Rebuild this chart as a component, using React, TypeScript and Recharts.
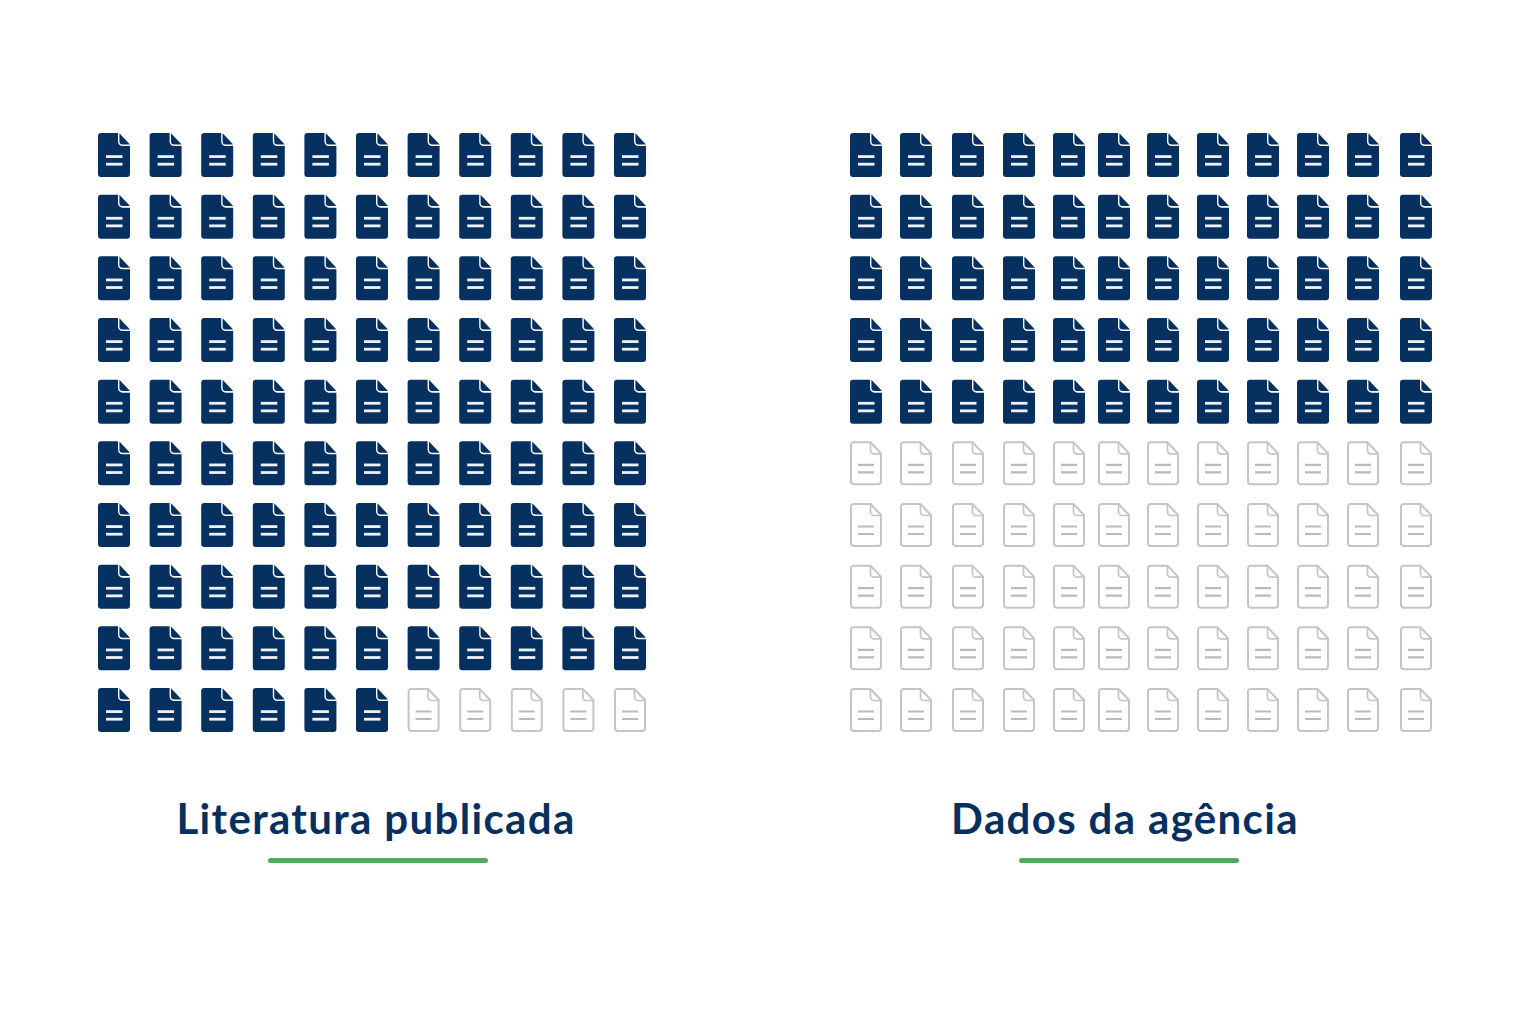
import React from "react"
import { Scatter, ScatterChart, XAxis, YAxis } from "recharts"

const leftTitle = "Literatura publicada"
const rightTitle = "Dados da agência"

// column values of each grid, the right one is slightly uneven in the picture
const leftColumns = [1, 2, 3, 4, 5, 6, 7, 8, 9, 10, 11]
const rightColumns = [1, 2, 3.04, 4.06, 5.06, 5.96, 6.94, 7.94, 8.94, 9.94, 10.94, 12]
const rows = [1, 2, 3, 4, 5, 6, 7, 8, 9, 10]

// how many documents are dark in each row
const leftFilled = [11, 11, 11, 11, 11, 11, 11, 11, 11, 6]
const rightFilled = [12, 12, 12, 12, 12, 0, 0, 0, 0, 0]

const NAVY = "#06305f"
const GREY = "#c2c5ca"
const GREY_LINE = "#b7bbc0"
const GREEN = "#57a85c"

const buildPoints = (columns: number[], filled: number[]) =>
  rows.flatMap((row, r) =>
    columns.map((column, c) => ({ column, row, filled: c < filled[r] }))
  )

const DocIcon = (props: any) => {
  const { cx, cy, payload } = props
  const x = cx - 16
  const y = cy - 22
  if (payload.filled) {
    return (
      <g transform={`translate(${x},${y})`}>
        <path
          d="M3 0H20V8.5a4.5 4.5 0 0 0 4.5 4.5H32V41a3 3 0 0 1-3 3H3a3 3 0 0 1-3-3V3a3 3 0 0 1 3-3z"
          fill={NAVY}
        />
        <path d="M21.4 0.2L32 11.4H24.6a3.2 3.2 0 0 1-3.2-3.2z" fill={NAVY} />
        <rect x={8} y={22.2} width={16.5} height={2.8} fill="#eef1f4" />
        <rect x={8} y={29.8} width={16.5} height={2.8} fill="#eef1f4" />
      </g>
    )
  }
  return (
    <g transform={`translate(${x},${y})`} fill="none" stroke={GREY} strokeWidth={2}>
      <path d="M3.5 1H20.5L31 12V40a3 3 0 0 1-3 3H4a3 3 0 0 1-3-3V3.5a2.5 2.5 0 0 1 2.5-2.5z" />
      <path d="M20.5 1V9a3.5 3.5 0 0 0 3.5 3.5H31" strokeWidth={1.7} />
      <path d="M8 23.5H24M8 31H24" stroke={GREY_LINE} strokeWidth={2.2} />
    </g>
  )
}

const Grid = ({ left, width, columns, filled, margin }: any) => (
  <div style={{ position: "absolute", left, top: 0 }}>
    <ScatterChart width={width} height={1024} margin={margin}>
      <XAxis type="number" dataKey="column" domain={[1, columns.length]} hide />
      <YAxis type="number" dataKey="row" domain={[1, 10]} reversed hide />
      <Scatter
        data={buildPoints(columns, filled)}
        shape={<DocIcon />}
        isAnimationActive={false}
      />
    </ScatterChart>
  </div>
)

const titleStyle: React.CSSProperties = {
  position: "absolute",
  top: 793,
  width: 600,
  textAlign: "center",
  fontFamily: "Lato",
  fontWeight: 700,
  fontSize: 42,
  letterSpacing: 1.35,
  lineHeight: "50px",
  color: NAVY,
}

const underlineStyle: React.CSSProperties = {
  position: "absolute",
  top: 858,
  width: 220,
  height: 5,
  borderRadius: 3,
  background: GREEN,
}

export default function App() {
  return (
    <div style={{ position: "relative", width: 1536, height: 1024, margin: -8, background: "#fff", overflow: "hidden" }}>
      <Grid
        left={0}
        width={768}
        columns={leftColumns}
        filled={leftFilled}
        margin={{ left: 114, right: 138, top: 155, bottom: 314 }}
      />
      <Grid
        left={768}
        width={768}
        columns={rightColumns}
        filled={rightFilled}
        margin={{ left: 98, right: 120, top: 155, bottom: 314 }}
      />
      <div style={{ ...titleStyle, left: 76 }}>{leftTitle}</div>
      <div style={{ ...titleStyle, left: 825 }}>{rightTitle}</div>
      <div style={{ ...underlineStyle, left: 268 }} />
      <div style={{ ...underlineStyle, left: 1019 }} />
    </div>
  )
}
